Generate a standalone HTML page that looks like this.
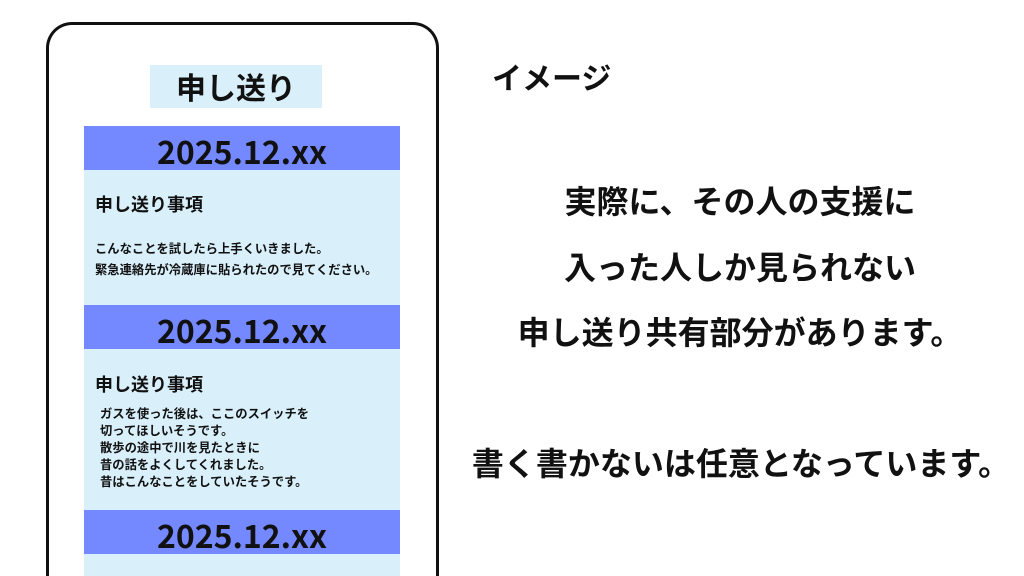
<!DOCTYPE html>
<html><head><meta charset="utf-8"><style>
html,body{margin:0;width:1024px;height:576px;overflow:hidden}
body{background:#fff;position:relative;font-family:"Noto Sans CJK JP","Liberation Sans",sans-serif;color:#111}
.a{position:absolute}
.frame{left:46px;top:22px;height:554px;border:3px solid #111;border-bottom:none;border-radius:26px 26px 0 0;box-sizing:border-box;width:393px}
.hd{left:84px;width:316px;height:44px;background:#7489ff;text-align:center;font-weight:bold;font-size:32px;line-height:50px}
.bd{left:84px;width:316px;background:#d9f0fb}
.h2{font-size:18px;font-weight:bold;left:95px;white-space:nowrap;line-height:24px}
.t{font-size:12.3px;font-weight:bold;white-space:nowrap;line-height:17px}
.r{font-size:32px;font-weight:bold;white-space:nowrap;text-align:center;width:600px;left:440px;line-height:40px}
</style></head><body>
<div class="a frame"></div>
<div class="a" style="left:150px;top:65px;width:172px;height:43px;background:#d9f0fb;text-align:center;font-size:30px;font-weight:bold;line-height:43px">申し送り</div>
<div class="a hd" style="top:126px">2025.12.xx</div>
<div class="a bd" style="top:170px;height:135px"></div>
<div class="a hd" style="top:305px">2025.12.xx</div>
<div class="a bd" style="top:349px;height:161px"></div>
<div class="a hd" style="top:510px">2025.12.xx</div>
<div class="a bd" style="top:554px;height:22px"></div>
<div class="a h2" style="top:192px">申し送り事項</div>
<div class="a t" style="left:95px;top:238px;line-height:21px">こんなことを試したら上手くいきました。<br>緊急連絡先が冷蔵庫に貼られたので見てください。</div>
<div class="a h2" style="top:372px">申し送り事項</div>
<div class="a t" style="left:100px;top:405px">ガスを使った後は、ここのスイッチを<br>切ってほしいそうです。<br>散歩の途中で川を見たときに<br>昔の話をよくしてくれました。<br>昔はこんなことをしていたそうです。</div>
<div class="a" style="left:492px;top:56px;font-size:30px;font-weight:bold;line-height:40px">イメージ</div>
<div class="a r" style="top:180px">実際に、その人の支援に</div>
<div class="a r" style="top:246px">入った人しか見られない</div>
<div class="a r" style="top:311px">申し送り共有部分があります。</div>
<div class="a r" style="top:442px;left:441px">書く書かないは任意となっています。</div>
</body></html>
